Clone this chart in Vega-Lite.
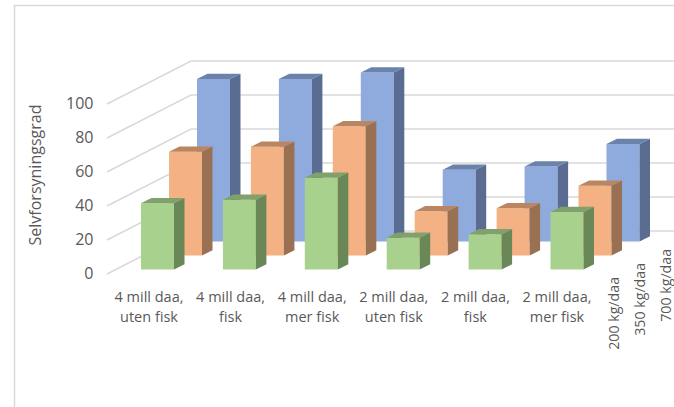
{
"$schema":"https://vega.github.io/schema/vega-lite/v6.json",
"autosize":"none",
"padding":{"left":14.5,"top":5.5,"right":0,"bottom":0},
"width":661,"height":403,
"background":"white",
"view":{"stroke":"#d9d9d9","strokeWidth":1.5,"fill":"white"},
"config":{"axisY":{"offset":-92.5,"domain":false,"ticks":false,"grid":false,
    "labelPadding":14,"labelFont":"Open Sans","labelFontSize":16,"labelColor":"#595959",
    "titleFont":"Open Sans","titleFontSize":16,"titleFontWeight":"normal","titleColor":"#595959",
    "titleX":-72,"titleY":169,"titleAlign":"center","titleBaseline":"middle"}},
"datasets":{"levels":[{"level":0},{"level":20},{"level":40},{"level":60},{"level":80},{"level":100}]},
"data":{"values":[
{"case":"4 mill daa, uten fisk","series":"200 kg/daa","value":39},
{"case":"4 mill daa, fisk","series":"200 kg/daa","value":41},
{"case":"4 mill daa, mer fisk","series":"200 kg/daa","value":54},
{"case":"2 mill daa, uten fisk","series":"200 kg/daa","value":18.7},
{"case":"2 mill daa, fisk","series":"200 kg/daa","value":20.7},
{"case":"2 mill daa, mer fisk","series":"200 kg/daa","value":33.8},
{"case":"4 mill daa, uten fisk","series":"350 kg/daa","value":61},
{"case":"4 mill daa, fisk","series":"350 kg/daa","value":63.9},
{"case":"4 mill daa, mer fisk","series":"350 kg/daa","value":76},
{"case":"2 mill daa, uten fisk","series":"350 kg/daa","value":26},
{"case":"2 mill daa, fisk","series":"350 kg/daa","value":27.8},
{"case":"2 mill daa, mer fisk","series":"350 kg/daa","value":41},
{"case":"4 mill daa, uten fisk","series":"700 kg/daa","value":95.5},
{"case":"4 mill daa, fisk","series":"700 kg/daa","value":95.5},
{"case":"4 mill daa, mer fisk","series":"700 kg/daa","value":99.4},
{"case":"2 mill daa, uten fisk","series":"700 kg/daa","value":42.2},
{"case":"2 mill daa, fisk","series":"700 kg/daa","value":44.1},
{"case":"2 mill daa, mer fisk","series":"700 kg/daa","value":57.3}
]},
"transform":[
{"calculate":"indexof(['4 mill daa, uten fisk','4 mill daa, fisk','4 mill daa, mer fisk','2 mill daa, uten fisk','2 mill daa, fisk','2 mill daa, mer fisk'],datum.case)","as":"c"},
{"calculate":"indexof(['200 kg/daa','350 kg/daa','700 kg/daa'],datum.series)","as":"s"},
{"calculate":"replace(datum.case,', ',',\\n')","as":"label"},
{"calculate":"[0,1]","as":"edge"},
{"flatten":["edge"]},
{"calculate":"141+81.9*datum.c+28*datum.s","as":"xl"},
{"calculate":"datum.xl+33","as":"xr"},
{"calculate":"2.65+8.25*datum.s","as":"base"},
{"calculate":"datum.base+datum.value","as":"top"},
{"calculate":"datum.xl+10.5*datum.edge","as":"backL"},
{"calculate":"datum.xr+10.5*datum.edge","as":"backR"},
{"calculate":"datum.base+3.1*datum.edge","as":"sideLow"},
{"calculate":"datum.top+3.1*datum.edge","as":"sideHigh"},
{"calculate":"149+81.6*datum.c","as":"labelX"},
{"calculate":"615+26*datum.s","as":"depthX"},
{"calculate":"datum.base-4.4","as":"depthY"},
{"calculate":"-14.4","as":"labelY"}
],
"layer":[
{"data":{"name":"levels"},
 "transform":[
  {"calculate":"[107,191,676]","as":"gx"},
  {"flatten":["gx"]},
  {"calculate":"datum.level+(datum.gx>107?25.3:0)","as":"gy"}
 ],
 "mark":{"type":"line","color":"#d9d9d9","strokeWidth":1.5},
 "encoding":{
  "x":{"field":"gx","type":"quantitative","axis":null,"scale":{"domain":[14.5,675.5],"nice":false,"zero":false}},
  "y":{"field":"gy","type":"quantitative","scale":{"domain":[-79.12,157.94],"nice":false,"zero":false},
   "axis":{"values":[0,20,40,60,80,100],"title":"Selvforsyningsgrad"}},
  "detail":{"field":"level"}
 }},
{"transform":[{"filter":"datum.s==2 && datum.edge==0"}],
 "mark":{"type":"rect","color":"#8faadc"},
 "encoding":{"x":{"field":"xl","type":"quantitative","axis":null,"scale":{"domain":[14.5,675.5],"nice":false,"zero":false}},"x2":{"field":"xr"},
  "y":{"field":"base","type":"quantitative","axis":{"values":[0,20,40,60,80,100],"title":"Selvforsyningsgrad"},"scale":{"domain":[-79.12,157.94],"nice":false,"zero":false}},"y2":{"field":"top"}}},
{"transform":[{"filter":"datum.s==2"}],
 "mark":{"type":"area","color":"#5a6c91","opacity":1},
 "encoding":{"x":{"field":"backR","type":"quantitative","axis":null,"scale":{"domain":[14.5,675.5],"nice":false,"zero":false}},
  "y":{"field":"sideLow","type":"quantitative","axis":{"values":[0,20,40,60,80,100],"title":"Selvforsyningsgrad"},"scale":{"domain":[-79.12,157.94],"nice":false,"zero":false}},"y2":{"field":"sideHigh"},"detail":{"field":"c"}}},
{"transform":[{"filter":"datum.s==2"}],
 "mark":{"type":"area","orient":"horizontal","color":"#6b82ab","opacity":1},
 "encoding":{"x":{"field":"backL","type":"quantitative","axis":null,"scale":{"domain":[14.5,675.5],"nice":false,"zero":false}},"x2":{"field":"backR"},
  "y":{"field":"sideHigh","type":"quantitative","axis":{"values":[0,20,40,60,80,100],"title":"Selvforsyningsgrad"},"scale":{"domain":[-79.12,157.94],"nice":false,"zero":false}},"detail":{"field":"c"}}},
{"transform":[{"filter":"datum.s==1 && datum.edge==0"}],
 "mark":{"type":"rect","color":"#f4b183"},
 "encoding":{"x":{"field":"xl","type":"quantitative","axis":null,"scale":{"domain":[14.5,675.5],"nice":false,"zero":false}},"x2":{"field":"xr"},
  "y":{"field":"base","type":"quantitative","axis":{"values":[0,20,40,60,80,100],"title":"Selvforsyningsgrad"},"scale":{"domain":[-79.12,157.94],"nice":false,"zero":false}},"y2":{"field":"top"}}},
{"transform":[{"filter":"datum.s==1"}],
 "mark":{"type":"area","color":"#9a7052","opacity":1},
 "encoding":{"x":{"field":"backR","type":"quantitative","axis":null,"scale":{"domain":[14.5,675.5],"nice":false,"zero":false}},
  "y":{"field":"sideLow","type":"quantitative","axis":{"values":[0,20,40,60,80,100],"title":"Selvforsyningsgrad"},"scale":{"domain":[-79.12,157.94],"nice":false,"zero":false}},"y2":{"field":"sideHigh"},"detail":{"field":"c"}}},
{"transform":[{"filter":"datum.s==1"}],
 "mark":{"type":"area","orient":"horizontal","color":"#ba8662","opacity":1},
 "encoding":{"x":{"field":"backL","type":"quantitative","axis":null,"scale":{"domain":[14.5,675.5],"nice":false,"zero":false}},"x2":{"field":"backR"},
  "y":{"field":"sideHigh","type":"quantitative","axis":{"values":[0,20,40,60,80,100],"title":"Selvforsyningsgrad"},"scale":{"domain":[-79.12,157.94],"nice":false,"zero":false}},"detail":{"field":"c"}}},
{"transform":[{"filter":"datum.s==0 && datum.edge==0"}],
 "mark":{"type":"rect","color":"#a9d18e"},
 "encoding":{"x":{"field":"xl","type":"quantitative","axis":null,"scale":{"domain":[14.5,675.5],"nice":false,"zero":false}},"x2":{"field":"xr"},
  "y":{"field":"base","type":"quantitative","axis":{"values":[0,20,40,60,80,100],"title":"Selvforsyningsgrad"},"scale":{"domain":[-79.12,157.94],"nice":false,"zero":false}},"y2":{"field":"top"}}},
{"transform":[{"filter":"datum.s==0"}],
 "mark":{"type":"area","color":"#6a8758","opacity":1},
 "encoding":{"x":{"field":"backR","type":"quantitative","axis":null,"scale":{"domain":[14.5,675.5],"nice":false,"zero":false}},
  "y":{"field":"sideLow","type":"quantitative","axis":{"values":[0,20,40,60,80,100],"title":"Selvforsyningsgrad"},"scale":{"domain":[-79.12,157.94],"nice":false,"zero":false}},"y2":{"field":"sideHigh"},"detail":{"field":"c"}}},
{"transform":[{"filter":"datum.s==0"}],
 "mark":{"type":"area","orient":"horizontal","color":"#80a06c","opacity":1},
 "encoding":{"x":{"field":"backL","type":"quantitative","axis":null,"scale":{"domain":[14.5,675.5],"nice":false,"zero":false}},"x2":{"field":"backR"},
  "y":{"field":"sideHigh","type":"quantitative","axis":{"values":[0,20,40,60,80,100],"title":"Selvforsyningsgrad"},"scale":{"domain":[-79.12,157.94],"nice":false,"zero":false}},"detail":{"field":"c"}}},
{"transform":[{"filter":"datum.s==0 && datum.edge==0"}],
 "mark":{"type":"text","font":"Open Sans","fontSize":14.5,"color":"#595959","align":"center","baseline":"middle","lineBreak":"\n","lineHeight":20},
 "encoding":{"x":{"field":"labelX","type":"quantitative","axis":null,"scale":{"domain":[14.5,675.5],"nice":false,"zero":false}},
  "y":{"field":"labelY","type":"quantitative","axis":{"values":[0,20,40,60,80,100],"title":"Selvforsyningsgrad"},"scale":{"domain":[-79.12,157.94],"nice":false,"zero":false}},
  "text":{"field":"label"}}},
{"transform":[{"filter":"datum.c==0 && datum.edge==0"}],
 "mark":{"type":"text","font":"Open Sans","fontSize":14.2,"color":"#595959","align":"right","baseline":"middle","angle":270},
 "encoding":{"x":{"field":"depthX","type":"quantitative","axis":null,"scale":{"domain":[14.5,675.5],"nice":false,"zero":false}},
  "y":{"field":"depthY","type":"quantitative","axis":{"values":[0,20,40,60,80,100],"title":"Selvforsyningsgrad"},"scale":{"domain":[-79.12,157.94],"nice":false,"zero":false}},
  "text":{"field":"series"}}}
]
}
